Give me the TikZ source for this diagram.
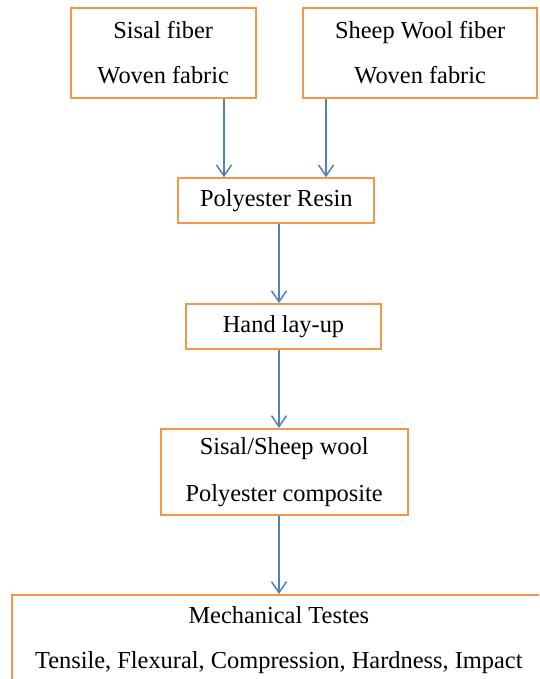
\documentclass[tikz,border=0pt]{standalone}
\usepackage{fontspec}
\setmainfont{Liberation Serif}
\usepackage{xcolor}
\definecolor{o1}{HTML}{F79646}
\definecolor{b1}{HTML}{4F81BD}
\usetikzlibrary{arrows.meta}

\begin{document}
\begin{tikzpicture}[x=1pt,y=-1pt,
    box/.style={draw=o1,line width=2pt,align=center,inner sep=0pt,
      font=\fontsize{24.4}{45}\selectfont},
    flow/.style={draw=b1,line width=1.5pt,-{Straight Barb[length=11pt,width=15pt]}}]
  \clip (0,0) rectangle (539,679);
  \node[box,minimum width=185pt,minimum height=89.4pt] (sisal) at (163.2,53) {Sisal fiber\\Woven fabric};
  \node[box,minimum width=233.7pt,minimum height=89.4pt] (wool) at (420.2,53) {Sheep Wool fiber\\Woven fabric};
  \node[box,minimum width=196pt,minimum height=44.4pt] (resin) at (276.3,200.5) {Polyester Resin};
  \node[box,minimum width=195.6pt,minimum height=45.3pt] (hand) at (283.5,326.7) {Hand lay-up};
  \node[box,minimum width=247pt,minimum height=85.7pt] (comp) at (284.2,471.8) {Sisal/Sheep wool\\[2pt]Polyester composite};
  \node[box,minimum width=533pt,minimum height=91pt] (mech) at (278.8,640.5) {Mechanical Testes\\Tensile, Flexural, Compression, Hardness, Impact};

  %\draw[flow] (sisal) -- (resin);
  \draw[flow] (sisal.south -| 224,0) -- (resin.north -| 224,0);
  \draw[flow] (wool.south -| 326,0) -- (resin.north -| 326,0);
  \draw[flow] (resin.south -| 279,0) -- (hand.north -| 279,0);
  \draw[flow] (hand.south -| 279,0) -- (comp.north -| 279,0);
  \draw[flow] (comp.south -| 279,0) -- (mech.north -| 279,0);
\end{tikzpicture}
\end{document}
